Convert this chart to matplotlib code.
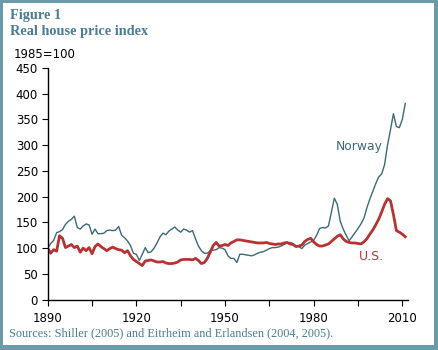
import numpy as np
import matplotlib
matplotlib.use("Agg")
import matplotlib.pyplot as plt
from matplotlib.patches import Rectangle

# Real house price index, 1985=100
years = list(range(1890, 2012))

norway = [100, 109, 115, 130, 132, 136, 146, 152, 156, 162,
          140, 137, 143, 147, 145, 127, 137, 128, 128, 129,
          134, 135, 134, 135, 142, 125, 120, 114, 105, 90,
          88, 76, 88, 101, 91, 93, 100, 110, 122, 129,
          126, 133, 137, 141, 135, 131, 137, 135, 131, 134,
          118, 104, 95, 90, 90, 95, 96, 97, 101, 100,
          97, 85, 80, 80, 72, 88, 88, 87, 86, 85,
          87, 90, 92, 93, 96, 99, 101, 101, 102, 104,
          107, 110, 111, 109, 104, 103, 99, 106, 109, 112,
          115, 125, 138, 140, 139, 143, 170, 197, 185, 152,
          137, 125, 114, 122, 130, 138, 147, 158, 178, 195,
          210, 225, 238, 244, 262, 300, 330, 361, 336, 334,
          350, 381]

us = [100, 90, 97, 94, 124, 119, 101, 104, 107, 101,
      104, 92, 100, 95, 101, 89, 103, 108, 103, 99,
      95, 99, 102, 99, 97, 96, 91, 95, 85, 78,
      74, 70, 66, 75, 76, 77, 75, 73, 73, 74,
      71, 70, 70, 71, 73, 77, 78, 78, 78, 77,
      80, 76, 70, 72, 80, 92, 105, 111, 104, 105,
      107, 105, 110, 113, 116, 116, 115, 114, 113, 112,
      111, 110, 110, 110, 111, 109, 108, 107, 108, 108,
      110, 111, 108, 107, 103, 104, 106, 113, 117, 119,
      112, 107, 104, 104, 106, 108, 113, 118, 123, 126,
      118, 113, 111, 110, 110, 109, 108, 112, 118, 127,
      135, 145, 156, 170, 185, 196, 192, 165, 134, 131,
      127, 122]

x_ticks = list(range(1890, 2011, 15))
x_labels = ["1890", "", "1920", "", "1950", "", "1980", "", "2010"]
y_ticks = list(range(0, 451, 50))

norway_color = "#3b6a7c"
us_color = "#b83232"
frame_color = "#6b9aa9"
title_color = "#4a7b9a"

fig = plt.figure(figsize=(4.38, 3.5), dpi=100)
fig.patch.set_facecolor(frame_color)
# white panel inside the coloured frame
fig.patches.append(Rectangle((3 / 438, 5 / 350), 431 / 438, 342 / 350,
                             transform=fig.transFigure, facecolor="white",
                             edgecolor="none", zorder=-5))

ax = fig.add_axes([0.109, 0.144, 0.823, 0.662])
ax.patch.set_alpha(0)
ax.plot(years, norway, color=norway_color, lw=1.0)
ax.plot(years, us, color=us_color, lw=2.0)

ax.set_xlim(1890, 2012)
ax.set_ylim(0, 450)
ax.set_xticks(x_ticks)
ax.set_xticklabels(x_labels)
ax.set_yticks(y_ticks)
for s in ["top", "right"]:
    ax.spines[s].set_visible(False)
for s in ["left", "bottom"]:
    ax.spines[s].set_linewidth(1.0)
ax.tick_params(axis="both", direction="out", length=4, width=0.8,
               labelsize=8.5, colors="black")
ax.tick_params(axis="y", pad=3)
ax.tick_params(axis="x", pad=5)

ax.text(1995.5, 298, "Norway", color=norway_color, fontsize=8.9,
        ha="center", va="center")
ax.text(1999.5, 84, "U.S.", color=us_color, fontsize=8.9,
        ha="center", va="center")

serif = ["Liberation Serif", "DejaVu Serif"]
fig.text(10 / 438, 1 - 15 / 350, "Figure 1", color=title_color,
         fontsize=10.3, fontweight="bold", family=serif, va="center")
fig.text(10 / 438, 1 - 32 / 350, "Real house price index", color=title_color,
         fontsize=10.3, fontweight="bold", family=serif, va="center")
fig.text(14 / 438, 1 - 54 / 350, "1985=100", color="black", fontsize=8.5,
         va="center")
fig.text(9 / 438, 1 - 333 / 350,
         "Sources: Shiller (2005) and Eitrheim and Erlandsen (2004, 2005).",
         color=title_color, fontsize=8.8, family=serif, va="center")

fig.savefig("out.png", dpi=100, facecolor=fig.get_facecolor())
